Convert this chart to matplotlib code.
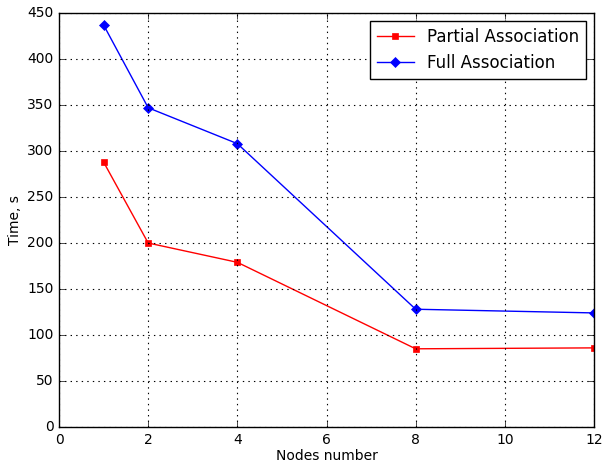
import matplotlib
matplotlib.use('Agg')
import matplotlib.pyplot as plt

NODES = [1, 2, 4, 8, 12]
PARTIAL = [288, 200, 179, 85, 86]
FULL = [437, 347, 308, 128, 124]

plt.style.use('classic')
fig = plt.figure(figsize=(6.03, 4.65), dpi=100)
ax = fig.add_axes([59 / 603, 38 / 465, 535 / 603, 414 / 465])

ax.plot(NODES, PARTIAL, color='red', marker='s', markersize=5,
        markeredgewidth=0.5, markeredgecolor='red', linewidth=1,
        label='Partial Association')
ax.plot(NODES, FULL, color='blue', marker='D', markersize=5.5,
        markeredgewidth=0.5, markeredgecolor='blue', linewidth=1,
        label='Full Association')

ax.set_xlim(0, 12)
ax.set_ylim(0, 450)
ax.set_xticks(range(0, 13, 2))
ax.set_yticks(range(0, 451, 50))
ax.tick_params(labelsize=10)
ax.grid(True, color='black', linestyle=':', linewidth=0.8)
ax.set_xlabel('Nodes number', fontsize=10, labelpad=2)
ax.set_ylabel('Time, s', fontsize=10, labelpad=4)
ax.legend(loc='upper right', fontsize=12, numpoints=1, handlelength=2.2)

fig.savefig('out.png', dpi=100, facecolor='white')
